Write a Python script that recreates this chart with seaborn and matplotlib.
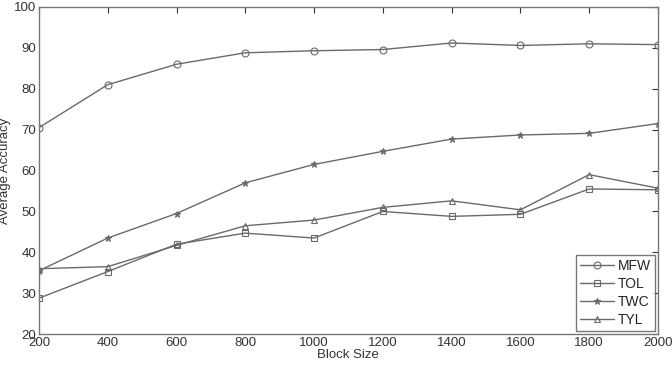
import matplotlib
matplotlib.use("Agg")
import matplotlib.pyplot as plt
import seaborn as sns
import pandas as pd

block_size = [200, 400, 600, 800, 1000, 1200, 1400, 1600, 1800, 2000]
mfw = [70.5, 81.0, 86.0, 88.8, 89.3, 89.6, 91.2, 90.6, 91.0, 90.8]
tol = [28.8, 35.3, 42.0, 44.7, 43.5, 50.0, 48.8, 49.3, 55.5, 55.3]
twc = [35.5, 43.5, 49.5, 57.0, 61.5, 64.7, 67.7, 68.7, 69.1, 71.5]
tyl = [36.0, 36.5, 41.7, 46.5, 47.9, 51.0, 52.6, 50.4, 59.0, 55.7]
series_names = ["MFW", "TOL", "TWC", "TYL"]

df = pd.DataFrame({"Block Size": block_size * 4,
                   "Average Accuracy": mfw + tol + twc + tyl,
                   "series": sum([[n] * len(block_size) for n in series_names], [])})

sns.set_style("white")
plt.rcParams['font.family'] = ['Liberation Sans', 'DejaVu Sans']

fig = plt.figure(figsize=(6.72, 3.68), dpi=100)
ax = fig.add_axes([0.058, 0.092, 0.921, 0.889])

grey = "#6a6a6a"
markers = {"MFW": "o", "TOL": "s", "TWC": "*", "TYL": "^"}
mfc = {"MFW": "none", "TOL": "none", "TWC": grey, "TYL": "none"}
for name in series_names:
    sub = df[df["series"] == name]
    sns.lineplot(data=sub, x="Block Size", y="Average Accuracy", ax=ax,
                 color=grey, lw=1.0, marker=markers[name], markersize=5,
                 markerfacecolor=mfc[name], markeredgecolor=grey,
                 markeredgewidth=0.8, label=name)

ax.set_xlim(200, 2000)
ax.set_ylim(20, 100)
ax.set_xticks(block_size)
ax.set_yticks(range(20, 101, 10))
ax.tick_params(direction="in", length=4, top=True, right=True,
               labelsize=9.5, colors="#333333", pad=2)
for s in ax.spines.values():
    s.set_color("#777777")
    s.set_linewidth(1.0)
ax.set_xlabel("Block Size", fontsize=9.5, labelpad=0, color="#333333")
ax.set_ylabel("Average Accuracy", fontsize=9.5, color="#333333")
ax.yaxis.set_label_coords(-0.045, 0.5)

leg = ax.legend(loc="lower right", frameon=True, fontsize=10, fancybox=False,
                borderaxespad=0.2, handlelength=2.4, handletextpad=0.3,
                labelspacing=0.3, borderpad=0.3)
leg.get_frame().set_edgecolor("#555555")
leg.get_frame().set_linewidth(1.0)

fig.savefig("out.png", dpi=100)
